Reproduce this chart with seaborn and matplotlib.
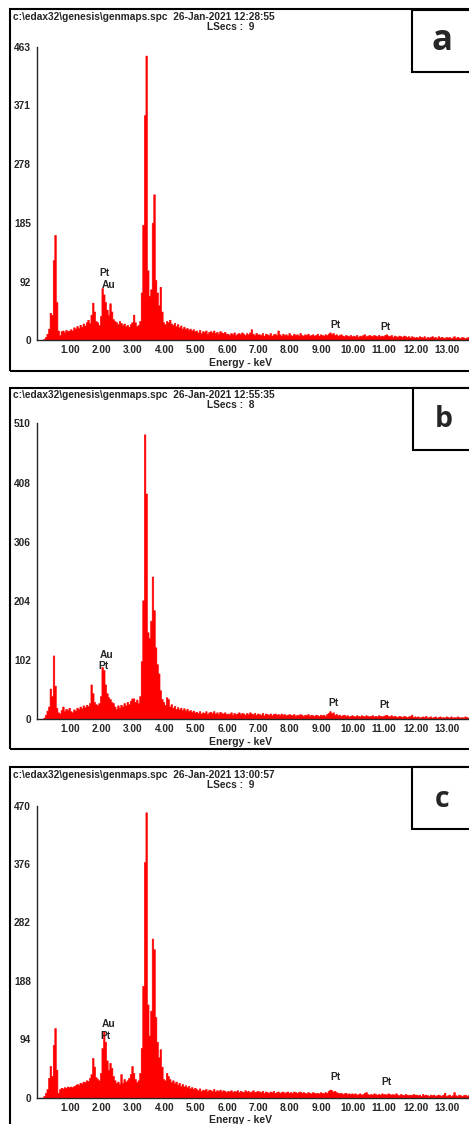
import numpy as np
import pandas as pd
import matplotlib
matplotlib.use("Agg")
import matplotlib.pyplot as plt
from matplotlib.patches import Rectangle
import seaborn as sns

# spectra are stored as counts per 0.05 keV bin, one row per keV, starting at 0 keV
BIN_KEV = 0.05

panel_letters = ["a", "b", "c"]
spc_path = "c:\\edax32\\genesis\\genmaps.spc"
timestamps = ["26-Jan-2021 12:28:55", "26-Jan-2021 12:55:35", "26-Jan-2021 13:00:57"]
lsecs = [9, 8, 9]

yticks_a = [0, 92, 185, 278, 371, 463]
yticks_b = [0, 102, 204, 306, 408, 510]
yticks_c = [0, 94, 188, 282, 376, 470]

xtick_values = list(range(1, 14))
xtick_labels = [f"{v:.2f}" for v in xtick_values]

counts_a = [
    0, 0, 0, 2, 5, 10, 18, 43, 40, 126, 166, 60, 15, 8, 14, 15, 12, 16, 14, 15,
    17, 15, 20, 18, 22, 19, 24, 21, 26, 23, 28, 32, 27, 40, 59, 45, 30, 28, 24, 38,
    82, 72, 60, 48, 40, 58, 45, 33, 30, 28, 25, 30, 27, 24, 26, 22, 24, 21, 25, 28,
    40, 28, 22, 24, 30, 75, 182, 355, 449, 110, 70, 80, 185, 230, 95, 75, 55, 84, 45, 28,
    25, 30, 28, 32, 26, 24, 27, 22, 25, 20, 23, 18, 21, 17, 19, 16, 18, 15, 17, 14,
    15, 12, 16, 11, 14, 13, 15, 10, 13, 14, 12, 15, 11, 13, 10, 14, 12, 11, 13, 10,
    10, 8, 11, 9, 12, 8, 10, 11, 9, 12, 10, 8, 11, 9, 12, 17, 10, 8, 11, 9,
    9, 8, 11, 7, 10, 9, 8, 11, 7, 9, 10, 8, 15, 9, 7, 10, 8, 9, 7, 11,
    8, 7, 10, 8, 9, 7, 11, 8, 7, 9, 8, 10, 7, 8, 9, 7, 8, 10, 7, 9,
    8, 7, 9, 8, 10, 12, 9, 11, 8, 9, 7, 8, 9, 7, 6, 8, 7, 6, 8, 6,
    7, 6, 8, 5, 7, 6, 8, 9, 6, 7, 8, 7, 6, 8, 7, 6, 8, 6, 7, 6,
    8, 9, 7, 6, 8, 5, 7, 6, 5, 7, 6, 5, 7, 6, 5, 6, 4, 6, 5, 4,
    5, 4, 6, 5, 4, 6, 3, 5, 4, 5, 6, 4, 5, 3, 6, 4, 5, 4, 3, 5,
    4, 5, 3, 4, 6, 3, 5, 4, 3, 5, 4, 3, 4, 5, 3,
]

counts_b = [
    0, 0, 0, 3, 8, 15, 22, 53, 40, 110, 58, 20, 12, 10, 16, 22, 14, 18, 16, 20,
    14, 12, 17, 15, 20, 18, 22, 19, 24, 21, 25, 23, 28, 60, 45, 30, 26, 24, 28, 40,
    90, 85, 60, 45, 38, 35, 30, 28, 22, 18, 24, 20, 25, 22, 28, 24, 30, 26, 32, 36,
    36, 30, 34, 28, 40, 100, 205, 491, 389, 150, 140, 170, 246, 188, 124, 95, 79, 50, 35, 30,
    25, 38, 35, 22, 26, 20, 23, 18, 21, 17, 20, 16, 19, 15, 18, 14, 16, 13, 15, 12,
    13, 11, 14, 10, 12, 11, 14, 9, 12, 13, 11, 14, 10, 12, 9, 13, 11, 10, 12, 9,
    10, 9, 12, 8, 11, 9, 10, 12, 9, 11, 10, 8, 11, 9, 12, 10, 9, 11, 8, 10,
    9, 8, 11, 7, 10, 9, 8, 10, 7, 9, 10, 8, 9, 7, 10, 8, 9, 7, 8, 9,
    8, 7, 9, 6, 8, 7, 9, 8, 6, 8, 7, 9, 6, 8, 7, 6, 8, 7, 6, 8,
    7, 8, 6, 9, 11, 14, 10, 12, 8, 9, 7, 8, 6, 7, 8, 6, 7, 5, 6, 7,
    6, 5, 7, 6, 5, 7, 6, 5, 7, 6, 5, 6, 7, 5, 6, 5, 7, 6, 5, 6,
    7, 8, 6, 5, 7, 5, 6, 5, 4, 6, 5, 4, 6, 5, 4, 5, 6, 8, 4, 5,
    4, 5, 3, 4, 5, 4, 6, 3, 4, 5, 3, 4, 5, 3, 4, 5, 3, 4, 3, 5,
    4, 3, 5, 3, 4, 3, 5, 4, 3, 4, 3, 5, 4, 3, 4,
]

counts_c = [
    0, 0, 0, 3, 8, 14, 32, 51, 35, 85, 112, 45, 8, 14, 16, 15, 17, 16, 18, 17,
    18, 17, 19, 20, 22, 21, 24, 23, 26, 25, 28, 27, 32, 38, 64, 50, 33, 30, 28, 40,
    80, 107, 90, 60, 45, 56, 48, 35, 28, 24, 26, 22, 38, 24, 30, 26, 28, 32, 38, 51,
    40, 30, 25, 28, 40, 80, 180, 379, 459, 150, 100, 140, 256, 239, 130, 90, 65, 78, 50, 30,
    28, 40, 35, 30, 25, 28, 23, 26, 21, 24, 19, 22, 18, 20, 17, 19, 15, 17, 14, 16,
    14, 12, 15, 11, 13, 12, 14, 10, 13, 12, 11, 14, 10, 12, 11, 13, 10, 12, 11, 9,
    11, 10, 12, 9, 11, 10, 12, 9, 11, 10, 9, 12, 10, 11, 9, 10, 12, 9, 10, 11,
    10, 9, 11, 8, 10, 9, 8, 10, 9, 11, 8, 9, 10, 8, 9, 10, 8, 9, 10, 8,
    9, 8, 10, 9, 8, 9, 10, 8, 9, 8, 7, 9, 8, 7, 9, 8, 7, 8, 7, 9,
    8, 7, 9, 8, 11, 13, 12, 10, 11, 9, 8, 7, 8, 6, 7, 8, 6, 7, 6, 7,
    6, 7, 5, 6, 7, 5, 6, 8, 9, 6, 5, 6, 5, 7, 6, 5, 6, 5, 7, 6,
    6, 5, 7, 6, 5, 6, 5, 7, 5, 4, 6, 5, 4, 6, 5, 4, 5, 4, 6, 5,
    5, 4, 5, 3, 6, 4, 5, 4, 3, 5, 4, 5, 3, 4, 5, 4, 3, 5, 8, 3,
    4, 5, 3, 4, 9, 4, 3, 5, 4, 3, 4, 5, 3, 4, 4,
]

# element markers: (text, keV, counts)
peaks_a = [("Pt", 2.11, 106), ("Au", 2.22, 87), ("Pt", 9.44, 24), ("Pt", 11.05, 21)]
peaks_b = [("Au", 2.16, 110), ("Pt", 2.08, 92), ("Pt", 9.40, 28), ("Pt", 11.0, 24)]
peaks_c = [("Au", 2.24, 119), ("Pt", 2.13, 100), ("Pt", 9.46, 34), ("Pt", 11.06, 26)]

# layout in pixels of the 469x1124 picture
FIG_W, FIG_H = 469, 1124
frame_tops = [9.5, 387.5, 767.3]
frame_bottoms = [371, 749, 1135]
axis_bottoms = [340, 719.3, 1097.7]
axis_tops = [46.7, 423.3, 805.5]
box_x0 = [411.7, 413, 411.7]
letter_sizes = [25, 20.5, 20.5]
SMALL = 7.3


def fx(px):
    return px / FIG_W


def fy(py):
    return 1 - py / FIG_H


def draw_panel(fig, i, counts, yticks, peaks):
    top, bottom = frame_tops[i], frame_bottoms[i]
    fig.patches.append(Rectangle((fx(10), fy(bottom)), fx(480) - fx(10), fy(top) - fy(bottom),
                                 transform=fig.transFigure, fill=False, lw=1.5, ec="black"))
    fig.patches.append(Rectangle((fx(box_x0[i]), fy(top + 62)), fx(480) - fx(box_x0[i]), fy(top) - fy(top + 62),
                                 transform=fig.transFigure, fill=True, fc="white", lw=1.5, ec="black"))
    fig.text(fx(box_x0[i] + 30.5), fy(top + 32), panel_letters[i], fontsize=letter_sizes[i],
             family="Open Sans", weight="bold", ha="center", va="center")

    fig.text(fx(13), fy(top + 7.8), f"{spc_path}  {timestamps[i]}", fontsize=SMALL, weight="bold",
             ha="left", va="center")
    fig.text(fx(231), fy(top + 17.8), f"LSecs :  {lsecs[i]}", fontsize=SMALL, weight="bold",
             ha="center", va="center")

    ax = fig.add_axes([fx(37), fy(axis_bottoms[i]), 1 - fx(37), fy(axis_tops[i]) - fy(axis_bottoms[i])])
    n_bins = len(counts)
    energy = np.arange(n_bins) * BIN_KEV + BIN_KEV / 2
    spectrum = pd.DataFrame({"energy": energy, "counts": counts})
    sns.histplot(data=spectrum, x="energy", weights="counts", binwidth=BIN_KEV,
                 binrange=(0, n_bins * BIN_KEV), element="step", fill=True,
                 color="#ff0000", alpha=1, linewidth=0.4, ax=ax, legend=False)
    ax.set_xlim(-0.05, 13.7)
    ax.set_ylim(0, yticks[-1])
    ax.set_xticks(xtick_values)
    ax.set_xticklabels(xtick_labels)
    ax.set_yticks(yticks)
    ax.set_yticklabels([str(v) for v in yticks])
    ax.tick_params(axis="x", length=1.5, width=0.8, pad=2.2, labelsize=SMALL)
    ax.tick_params(axis="y", length=3.5, width=0.8, pad=1, labelsize=SMALL)
    for lab in ax.get_xticklabels() + ax.get_yticklabels():
        lab.set_fontweight("bold")
    ax.set_xlabel("")
    ax.set_ylabel("")
    for side in ["top", "right"]:
        ax.spines[side].set_visible(False)
    ax.spines["left"].set_linewidth(1.0)
    ax.spines["bottom"].set_linewidth(1.0)
    ax.set_facecolor("none")

    for text, kev, cnt in peaks:
        ax.text(kev, cnt, text, fontsize=7.4, weight="bold", ha="center", va="center")

    fig.text(fx(240), fy(axis_bottoms[i] + 22.5), "Energy - keV", fontsize=7.5, weight="bold",
             ha="center", va="center")


def main():
    sns.set_theme(style="white")
    plt.rcParams["font.family"] = ["Liberation Sans", "DejaVu Sans"]
    fig = plt.figure(figsize=(FIG_W / 100, FIG_H / 100), dpi=100)
    draw_panel(fig, 0, counts_a, yticks_a, peaks_a)
    draw_panel(fig, 1, counts_b, yticks_b, peaks_b)
    draw_panel(fig, 2, counts_c, yticks_c, peaks_c)
    fig.savefig("out.png", dpi=100, facecolor="white")


if __name__ == "__main__":
    main()
